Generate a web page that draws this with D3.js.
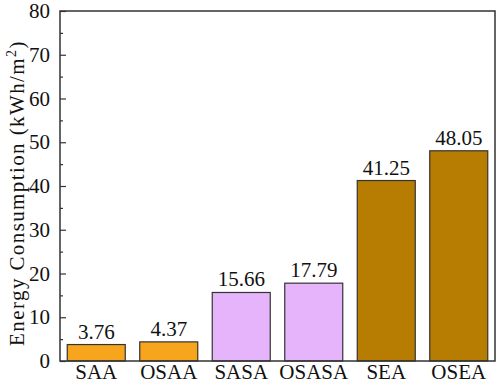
<!DOCTYPE html>
<html lang="en">

<head>
  <meta charset="UTF-8">
  <title>Energy Consumption</title>
  <script src="https://d3js.org/d3.v7.min.js"></script>
  <style>
    body {
      margin: 0;
      background: white;
    }

    svg text {
      font-family: "Liberation Serif", "DejaVu Serif", serif !important;
    }
  </style>
</head>

<body>
  <div id="chart"></div>

  <script>
    const categories = ["SAA", "OSAA", "SASA", "OSASA", "SEA", "OSEA"];
    const values = [3.76, 4.37, 15.66, 17.79, 41.25, 48.05];
    const colors = ["#F7A51D", "#F7A51D", "#E6B4FA", "#E6B4FA", "#B77D02", "#B77D02"];
    const yTicks = [0, 10, 20, 30, 40, 50, 60, 70, 80];

    const W = 498, H = 384;
    const margin = { top: 11, right: 3, bottom: 23, left: 60 };
    const width = W - margin.left - margin.right;
    const height = H - margin.top - margin.bottom;

    const svg = d3.select("#chart").append("svg")
      .attr("width", W)
      .attr("height", H);

    const g = svg.append("g")
      .attr("transform", `translate(${margin.left},${margin.top})`);

    const x = d3.scaleBand().domain(categories).range([0, width]).paddingInner(0.2).paddingOuter(0.1);
    const y = d3.scaleLinear().domain([0, 80]).range([height, 0]);

    // bars
    g.selectAll(".bar")
      .data(values)
      .enter().append("rect")
      .attr("x", (d, i) => x(categories[i]))
      .attr("y", d => y(d))
      .attr("width", x.bandwidth())
      .attr("height", d => height - y(d))
      .attr("fill", (d, i) => colors[i])
      .attr("stroke", "#333")
      .attr("stroke-width", 1.2);

    // value labels
    g.selectAll(".val")
      .data(values)
      .enter().append("text")
      .attr("x", (d, i) => x(categories[i]) + x.bandwidth() / 2)
      .attr("y", d => y(d) - 6)
      .attr("text-anchor", "middle")
      .attr("font-size", "21px")
      .attr("fill", "#111")
      .text(d => d.toFixed(2));

    // minor ticks
    g.append("g")
      .call(d3.axisLeft(y).tickValues(d3.range(5, 80, 10)).tickSizeInner(-3).tickSizeOuter(0).tickFormat(""))
      .call(a => a.select(".domain").remove())
      .selectAll("line").attr("stroke", "#333").attr("stroke-width", 1.2);

    // left axis, ticks inside
    const yAxis = g.append("g")
      .call(d3.axisLeft(y).tickValues(yTicks).tickSizeInner(-6).tickSizeOuter(0).tickPadding(10));
    yAxis.select(".domain").remove();
    yAxis.selectAll("line").attr("stroke", "#333").attr("stroke-width", 1.2);
    yAxis.selectAll("text")
      .attr("font-size", "21px")
      .attr("fill", "#111");

    // bottom axis labels, no ticks
    const xAxis = g.append("g")
      .attr("transform", `translate(0,${height})`)
      .call(d3.axisBottom(x).tickSize(0).tickPadding(3));
    xAxis.select(".domain").remove();
    xAxis.selectAll("text")
      .attr("font-size", "21px")
      .attr("fill", "#111");

    // frame
    g.append("rect")
      .attr("width", width)
      .attr("height", height)
      .attr("fill", "none")
      .attr("stroke", "#333")
      .attr("stroke-width", 1.5);

    // y label
    const yl = svg.append("text")
      .attr("transform", "translate(24,193) rotate(-90)")
      .attr("text-anchor", "middle")
      .attr("font-size", "21px")
      .attr("letter-spacing", "1.4px")
      .attr("fill", "#111");
    yl.append("tspan").text("Energy Consumption (kWh/m");
    yl.append("tspan").attr("font-size", "14px").attr("dy", "-8").text("2");
    yl.append("tspan").attr("dy", "8").text(")");
  </script>
</body>

</html>
